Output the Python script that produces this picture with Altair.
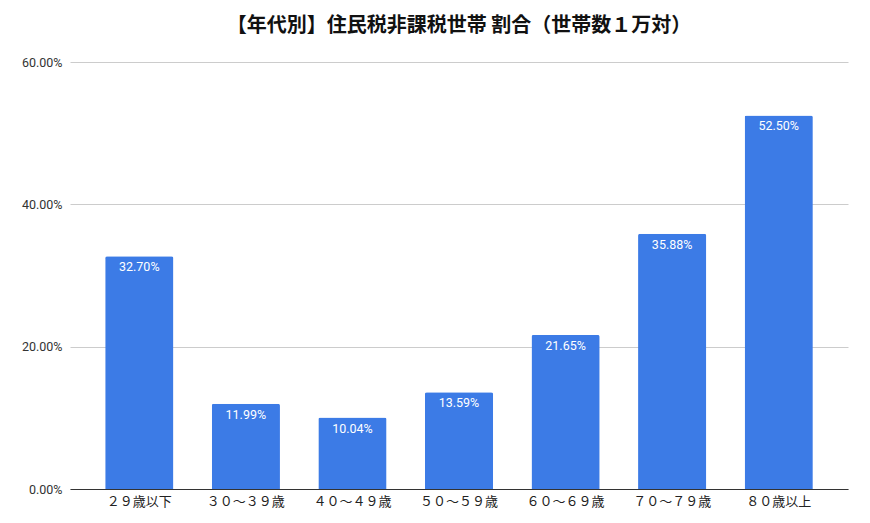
import altair as alt
import pandas as pd

# 年代別 住民税非課税世帯の割合
age_groups = ["２９歳以下", "３０～３９歳", "４０～４９歳", "５０～５９歳",
              "６０～６９歳", "７０～７９歳", "８０歳以上"]
ratios = [0.3270, 0.1199, 0.1004, 0.1359, 0.2165, 0.3588, 0.5250]

df = pd.DataFrame({"age": age_groups, "ratio": ratios})

FONT = "Noto Sans CJK JP"
BLUE = "#3c7be6"

x_enc = alt.X(
    "age:N", sort=age_groups, title=None,
    scale=alt.Scale(paddingInner=0.36, paddingOuter=0.33),
    axis=alt.Axis(labelAngle=0, ticks=False, domainColor="#333333",
                  labelColor="#222222", labelFontSize=13, labelPadding=6,
                  labelFont=FONT),
)
y_enc = alt.Y(
    "ratio:Q", title=None,
    scale=alt.Scale(domain=[0, 0.6], nice=False),
    axis=alt.Axis(format=".2%", values=[0, 0.2, 0.4, 0.6], ticks=False,
                  domain=False, gridColor="#cccccc", labelColor="#333333",
                  labelFontSize=12.5, labelPadding=8, labelFont="Roboto"),
)

bars = alt.Chart(df).mark_bar(
    color=BLUE, cornerRadiusTopLeft=2, cornerRadiusTopRight=2
).encode(x=x_enc, y=y_enc)

labels = alt.Chart(df).mark_text(
    color="white", baseline="top", dy=5, fontSize=12.5, font="Roboto"
).encode(
    x=alt.X("age:N", sort=age_groups),
    y="ratio:Q",
    text=alt.Text("ratio:Q", format=".2%"),
)

chart = (bars + labels).properties(
    width=778,
    height=427,
    autosize=alt.AutoSizeParams(type="none"),
    padding={"left": 62, "top": 54, "right": 14, "bottom": 26},
    title=alt.TitleParams(
        "【年代別】住民税非課税世帯 割合（世帯数１万対）",
        font=FONT, fontSize=20, fontWeight="bold", color="#111111",
        anchor="middle", offset=20,
    ),
).configure_view(strokeWidth=0)

chart.save("out.html", embed_options={"renderer": "svg", "actions": False})
